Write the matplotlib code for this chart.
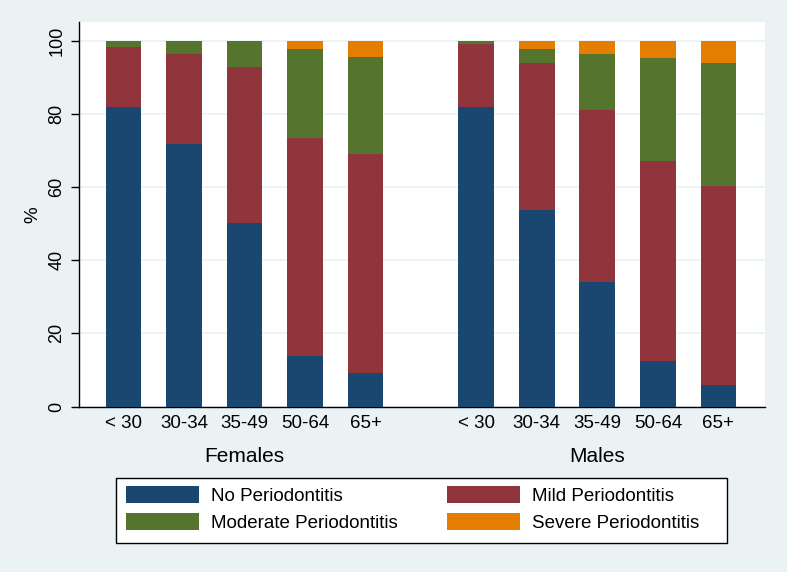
import numpy as np
import matplotlib.pyplot as plt
from matplotlib.patches import Rectangle
from matplotlib.transforms import blended_transform_factory

# categorie e valori (percentuali)
age_groups = ['< 30', '30-34', '35-49', '50-64', '65+']
sexes = ['Females', 'Males']

no_perio = [82.0, 71.7, 50.3, 13.9, 9.1,
            82.0, 53.9, 34.0, 12.4, 5.9]
mild_perio = [16.4, 24.8, 42.6, 59.6, 60.1,
              17.1, 40.1, 47.2, 54.7, 54.4]
moderate_perio = [1.6, 3.5, 7.1, 24.4, 26.5,
                  0.9, 3.9, 15.3, 28.3, 33.6]
severe_perio = [0.0, 0.0, 0.0, 2.1, 4.3,
                0.0, 2.1, 3.5, 4.6, 6.1]

labels = ['No Periodontitis', 'Mild Periodontitis',
          'Moderate Periodontitis', 'Severe Periodontitis']
colors = ['#1a476f', '#90353b', '#55752f', '#e37e00']

plt.rcParams['font.family'] = ['Liberation Sans', 'DejaVu Sans']

W, H = 787, 572

# posizioni delle barre: due gruppi separati
gap = 5.83
x = np.concatenate([np.arange(5), np.arange(5) + gap])

fig = plt.figure(figsize=(7.87, 5.72), dpi=100, facecolor='#eaf2f3')
ax = fig.add_axes([0.1004, 0.2893, 0.8716, 0.6722])
ax.set_facecolor('white')

bottom = np.zeros(len(x))
handles = []
for vals, col, lab in zip([no_perio, mild_perio, moderate_perio, severe_perio],
                          colors, labels):
    b = ax.bar(x, vals, width=0.59, bottom=bottom, color=col, label=lab,
               linewidth=0, zorder=3)
    handles.append(b)
    bottom += np.array(vals)

ax.set_xlim(-0.735, x[-1] + 0.77)
ax.set_ylim(0, 105.2)
ax.set_yticks([0, 20, 40, 60, 80, 100])
ax.set_yticklabels(['0', '20', '40', '60', '80', '100'], rotation=90,
                   va='center', fontsize=13)
ax.set_xticks(x)
ax.set_xticklabels(age_groups * 2, fontsize=13.5)
ax.tick_params(axis='x', length=0, pad=6)
ax.tick_params(axis='y', length=6, width=1, pad=4)
ax.yaxis.grid(True, color='#eaf2f3', linewidth=1.2, zorder=0)
ax.set_ylabel('%', fontsize=13.5, labelpad=5)

for side in ['top', 'right']:
    ax.spines[side].set_visible(False)
for side in ['left', 'bottom']:
    ax.spines[side].set_linewidth(1)
    ax.spines[side].set_color('black')

# etichette dei gruppi sotto le categorie
trans = blended_transform_factory(ax.transData, fig.transFigure)
ax.text(2, 1 - 456.5 / H, sexes[0], transform=trans, ha='center',
        va='center', fontsize=15)
ax.text(gap + 2, 1 - 456.5 / H, sexes[1], transform=trans, ha='center',
        va='center', fontsize=15)

# cornice della legenda disegnata a mano
fig.patches.append(Rectangle((116 / W, 1 - 543 / H), 611 / W, 65 / H,
                             transform=fig.transFigure, facecolor='white',
                             edgecolor='black', linewidth=1, zorder=0))

# legenda: ordine per righe come nell'originale
order = [0, 2, 1, 3]
leg = fig.legend([handles[i] for i in order], [labels[i] for i in order],
                 loc='upper left', bbox_to_anchor=(126 / W, 1 - 486 / H),
                 ncol=2, fontsize=13.5, frameon=False,
                 handlelength=3.9, handleheight=1.05, handletextpad=0.65,
                 columnspacing=2.6, labelspacing=0.42, borderpad=0,
                 borderaxespad=0)

fig.savefig('out.png', dpi=100, facecolor=fig.get_facecolor())
